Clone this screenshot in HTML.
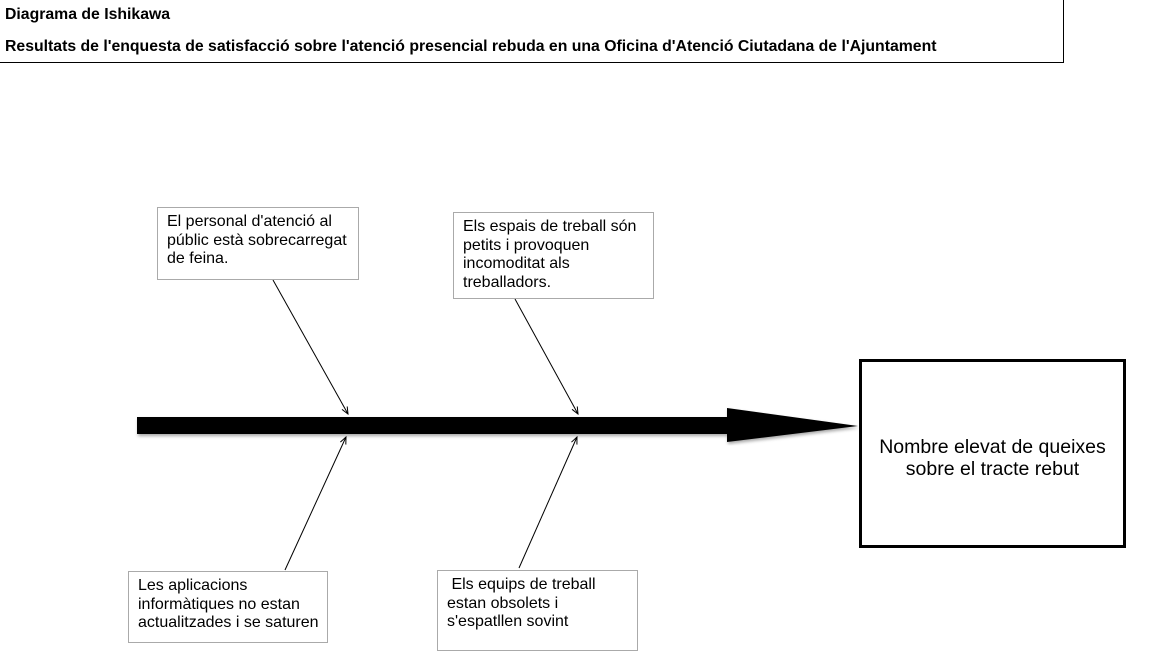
<!DOCTYPE html>
<html><head><meta charset="utf-8"><style>
body{margin:0;width:1168px;height:671px;background:#fff;position:relative;overflow:hidden;font-family:"Liberation Sans",Arial,sans-serif;}
.hdr{position:absolute;left:0;top:0;width:1063px;height:62px;border-right:1px solid #000;border-bottom:1px solid #000;}
.t{position:absolute;left:5px;font-weight:bold;font-size:15.8px;color:#000;white-space:nowrap;}
.b{position:absolute;border:1px solid #aaa;background:#fff;font-size:16px;line-height:18.5px;color:#000;box-sizing:border-box;padding:5px 9px;white-space:nowrap;}
.r{position:absolute;left:859px;top:359px;width:267px;height:189px;border:3px solid #000;box-sizing:border-box;font-size:19.5px;line-height:22px;text-align:center;padding-top:74px;white-space:nowrap;}
svg{position:absolute;left:0;top:0;}
</style></head><body>
<div class="hdr"><div class="t" style="top:6px">Diagrama de Ishikawa</div><div class="t" style="top:38px">Resultats de l'enquesta de satisfacció sobre l'atenció presencial rebuda en una Oficina d'Atenció Ciutadana de l'Ajuntament</div></div>
<svg width="1168" height="671">
<defs><marker id="a" markerWidth="8" markerHeight="8" refX="7" refY="4" orient="auto" markerUnits="userSpaceOnUse"><path d="M0,1 L7,4 L0,7" fill="none" stroke="#000" stroke-width="1"/></marker>
<filter id="s"><feDropShadow dx="1" dy="2" stdDeviation="1.5" flood-color="#000" flood-opacity="0.35"/></filter></defs>
<g filter="url(#s)"><rect x="137" y="417" width="595" height="17" fill="#000"/><polygon points="727,408 858,426 727,442" fill="#000"/></g>
<g stroke="#000" stroke-width="1" marker-end="url(#a)">
<line x1="273" y1="280" x2="348" y2="414"/>
<line x1="515" y1="299" x2="578" y2="414"/>
<line x1="285" y1="570" x2="346" y2="437"/>
<line x1="519" y1="568" x2="577" y2="437"/>
</g></svg>
<div class="b" style="left:157px;top:207px;width:202px;height:73px">El personal d'atenció al<br>públic està sobrecarregat<br>de feina.</div>
<div class="b" style="left:453px;top:212px;width:201px;height:87px">Els espais de treball són<br>petits i provoquen<br>incomoditat als<br>treballadors.</div>
<div class="b" style="left:128px;top:571px;width:200px;height:72px">Les aplicacions<br>informàtiques no estan<br>actualitzades i se saturen</div>
<div class="b" style="left:437px;top:570px;width:201px;height:81px">&nbsp;Els equips de treball<br>estan obsolets i<br>s'espatllen sovint</div>
<div class="r">Nombre elevat de queixes<br>sobre el tracte rebut</div>
</body></html>
